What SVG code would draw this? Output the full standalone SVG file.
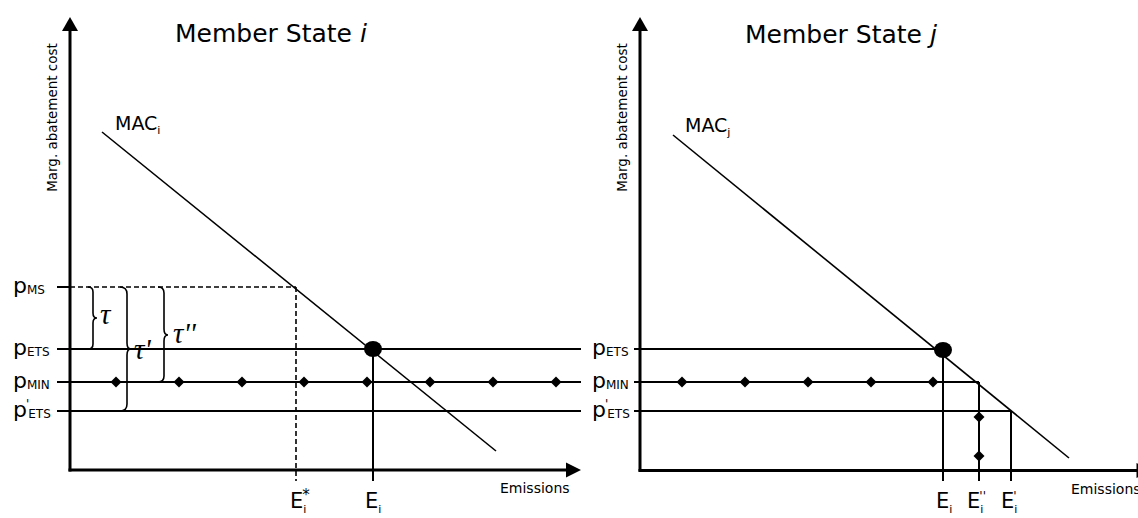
<svg xmlns="http://www.w3.org/2000/svg" width="1138" height="518" viewBox="0 0 1138 518">
<style>
  text { font-family: "DejaVu Sans", Verdana, sans-serif; fill: #000; }
  .title { font-size: 25px; }
  .axlab { font-size: 13.5px; }
  .mac { font-size: 19px; }
  .p { font-size: 22px; }
  .sub { font-size: 12px; }
  .star { font-size: 15px; }
  .e { font-size: 21px; }
  .esub { font-size: 11px; }
  .em { font-size: 14px; }
  .tau { font-family: "Liberation Serif", "Times New Roman", serif; font-style: italic; font-size: 29px; }
  .axis { stroke: #000; stroke-width: 3; fill: none; }
  .ln { stroke: #000; stroke-width: 2; fill: none; }
  .mac-line { stroke: #000; stroke-width: 1.6; fill: none; }
  .dash { stroke: #000; stroke-width: 1.6; stroke-dasharray: 5 3; fill: none; }
  .brace { stroke: #000; stroke-width: 1.6; fill: none; }
</style>
<defs>
  <path id="dia" d="M0,-5.5 L5.5,0 L0,5.5 L-5.5,0 Z" fill="#000"/>
</defs>

<!-- ================= LEFT PANEL ================= -->
<g id="panel-i">
  <text class="title" x="175" y="42">Member State <tspan font-style="italic">i</tspan></text>
  <text class="axlab" transform="translate(57,117.5) rotate(-90)" text-anchor="middle">Marg. abatement cost</text>
  <text class="mac" x="115" y="130">MAC<tspan class="esub" dy="4">i</tspan></text>
  <text class="em" x="500" y="493">Emissions</text>

  <g id="axes-i">
    <line class="axis" x1="70" y1="28" x2="70" y2="471.5"/>
    <polygon points="70,17 62,31 78,31" fill="#000"/>
    <line class="axis" x1="68.5" y1="470" x2="568" y2="470"/>
    <polygon points="581,470 566,462.5 566,477.5" fill="#000"/>
  </g>

  <g id="price-labels-i">
    <text class="p" x="13" y="293">p<tspan class="sub" dy="1">MS</tspan></text>
    <text class="p" x="13" y="355">p<tspan class="sub" dy="1">ETS</tspan></text>
    <text class="p" x="13" y="388">p<tspan class="sub" dy="1">MIN</tspan></text>
    <text class="p" x="13" y="417">p<tspan class="sub" dx="-1" dy="-9">'</tspan><tspan class="sub" dx="-1" dy="10">ETS</tspan></text>
  </g>

  <g id="connectors-i">
    <line class="ln" x1="57" y1="287" x2="70" y2="287"/>
    <line class="dash" x1="70" y1="287" x2="296" y2="287"/>
    <line class="dash" x1="296" y1="287" x2="296" y2="481"/>
    <line class="ln" x1="57" y1="349" x2="581" y2="349"/>
    <line class="ln" x1="57" y1="382" x2="581" y2="382"/>
    <line class="ln" x1="57" y1="411" x2="581" y2="411"/>
    <line class="ln" x1="373" y1="349" x2="373" y2="481"/>
    <line class="mac-line" x1="102" y1="132" x2="496" y2="451"/>
  </g>

  <g id="braces-i">
    <path class="brace" d="M88,287 Q93,287 93,292 V313 Q93,318 97,318 Q93,318 93,323 V344 Q93,349 88,349"/>
    <path class="brace" d="M120,287 Q127,287 127,294 V343 Q127,349 131,349 Q127,349 127,355 V404 Q127,411 120,411"/>
    <path class="brace" d="M158,287 Q164,287 164,293 V329 Q164,335 168,335 Q164,335 164,341 V376 Q164,382 158,382"/>
    <text class="tau" x="100" y="324">τ</text>
    <text class="tau" x="134" y="359">τ'</text>
    <text class="tau" x="173" y="343">τ''</text>
  </g>

  <g id="points-i">
    <use href="#dia" x="116" y="382"/>
    <use href="#dia" x="179" y="382"/>
    <use href="#dia" x="242" y="382"/>
    <use href="#dia" x="304" y="382"/>
    <use href="#dia" x="367" y="382"/>
    <use href="#dia" x="430" y="382"/>
    <use href="#dia" x="493" y="382"/>
    <use href="#dia" x="556" y="382"/>
    <ellipse cx="373" cy="349" rx="9" ry="8" fill="#000"/>
  </g>

  <g id="e-labels-i">
    <text class="e" x="290" y="508">E<tspan class="esub" dy="5">i</tspan><tspan class="star" dx="-4" dy="-13">*</tspan></text>
    <text class="e" x="365" y="508">E<tspan class="esub" dy="5">i</tspan></text>
  </g>
</g>

<!-- ================= RIGHT PANEL ================= -->
<g id="panel-j">
  <text class="title" x="745" y="43">Member State <tspan font-style="italic">j</tspan></text>
  <text class="axlab" transform="translate(627,117.5) rotate(-90)" text-anchor="middle">Marg. abatement cost</text>
  <text class="mac" x="685" y="132">MAC<tspan class="esub" dy="4">j</tspan></text>
  <text class="em" x="1071" y="494">Emissions</text>

  <g id="axes-j">
    <line class="axis" x1="640" y1="28" x2="640" y2="471.5"/>
    <polygon points="640,17 632,31 648,31" fill="#000"/>
    <line class="axis" x1="638.5" y1="470.5" x2="1138" y2="470.5"/>
    <polygon points="1152,470.5 1136.5,463 1136.5,478" fill="#000"/>
  </g>

  <g id="price-labels-j">
    <text class="p" x="592" y="355">p<tspan class="sub" dy="1">ETS</tspan></text>
    <text class="p" x="592" y="388">p<tspan class="sub" dy="1">MIN</tspan></text>
    <text class="p" x="592" y="417">p<tspan class="sub" dx="-1" dy="-9">'</tspan><tspan class="sub" dx="-1" dy="10">ETS</tspan></text>
  </g>

  <g id="connectors-j">
    <line class="ln" x1="634" y1="349" x2="943" y2="349"/>
    <line class="ln" x1="634" y1="382" x2="979" y2="382"/>
    <line class="ln" x1="634" y1="411" x2="1011" y2="411"/>
    <line class="ln" x1="943" y1="349" x2="943" y2="481"/>
    <line class="ln" x1="979" y1="382" x2="979" y2="481"/>
    <line class="ln" x1="1011" y1="411" x2="1011" y2="481"/>
    <line class="mac-line" x1="673" y1="135" x2="1069" y2="458"/>
  </g>

  <g id="points-j">
    <use href="#dia" x="682" y="382"/>
    <use href="#dia" x="745" y="382"/>
    <use href="#dia" x="808" y="382"/>
    <use href="#dia" x="871" y="382"/>
    <use href="#dia" x="933" y="382"/>
    <use href="#dia" x="979" y="417"/>
    <use href="#dia" x="979" y="456"/>
    <ellipse cx="943" cy="350" rx="9" ry="8" fill="#000"/>
  </g>

  <g id="e-labels-j">
    <text class="e" x="936" y="508">E<tspan class="esub" dy="5">i</tspan></text>
    <text class="e" x="967" y="508">E<tspan class="esub" dy="5">i</tspan><tspan class="sub" dx="-4" dy="-13">''</tspan></text>
    <text class="e" x="1001" y="508">E<tspan class="esub" dy="5">i</tspan><tspan class="sub" dx="-4" dy="-13">'</tspan></text>
  </g>
</g>
</svg>
